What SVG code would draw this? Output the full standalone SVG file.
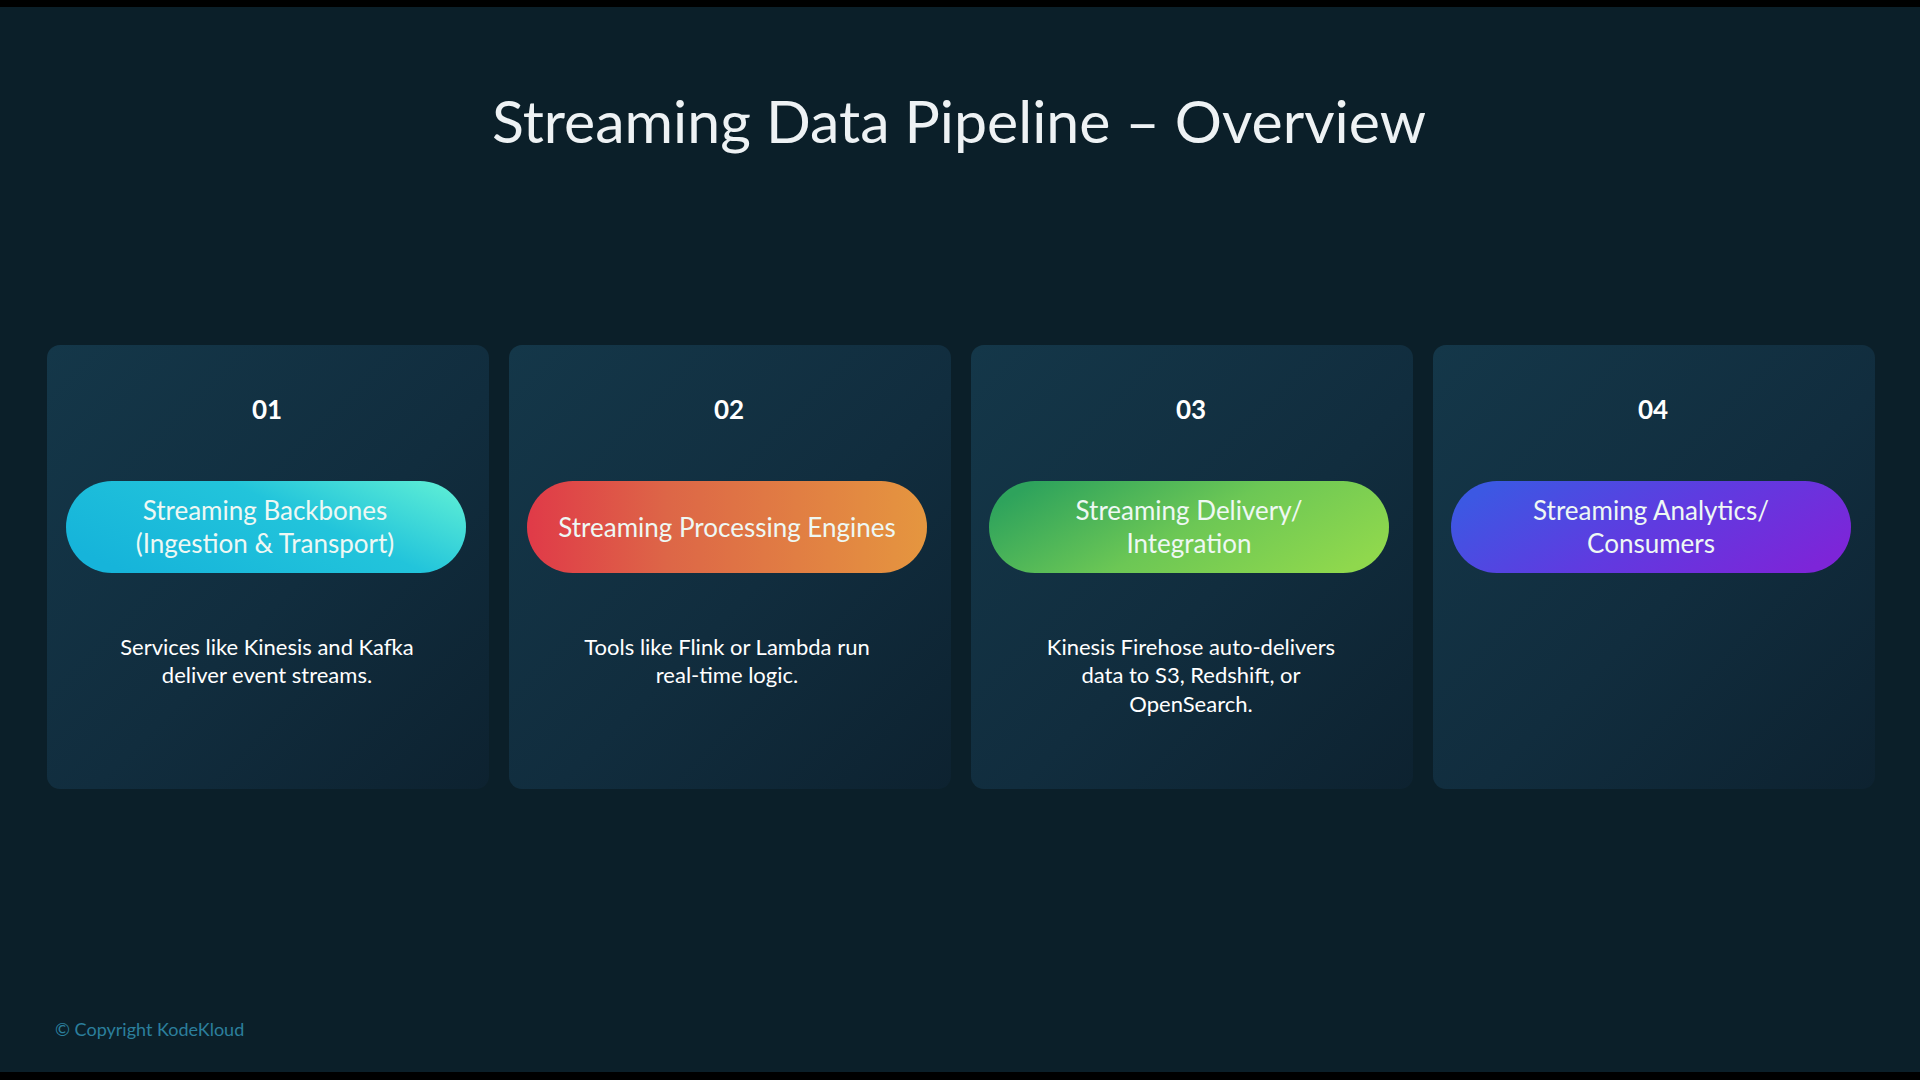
<svg xmlns="http://www.w3.org/2000/svg" width="1920" height="1080" viewBox="0 0 1920 1080">
<defs>
<linearGradient id="cardGrad" x1="0" y1="0" x2="1" y2="1">
<stop offset="0" stop-color="#143749"/>
<stop offset="0.55" stop-color="#112d3e"/>
<stop offset="1" stop-color="#0d2230"/>
</linearGradient>
<linearGradient id="g1" x1="0" y1="0.7" x2="1" y2="0.2">
<stop offset="0" stop-color="#16b4da"/>
<stop offset="0.6" stop-color="#22c4db"/>
<stop offset="1" stop-color="#58ead6"/>
</linearGradient>
<linearGradient id="g2" x1="0" y1="0.5" x2="1" y2="0.5">
<stop offset="0" stop-color="#e03a48"/>
<stop offset="0.35" stop-color="#dd6647"/>
<stop offset="1" stop-color="#e5963f"/>
</linearGradient>
<linearGradient id="g3" x1="0" y1="0.3" x2="1" y2="0.7">
<stop offset="0" stop-color="#2ea35c"/>
<stop offset="0.5" stop-color="#6cc755"/>
<stop offset="1" stop-color="#8fd84d"/>
</linearGradient>
<linearGradient id="g4" x1="0" y1="0.3" x2="1" y2="0.7">
<stop offset="0" stop-color="#3c58e3"/>
<stop offset="0.5" stop-color="#5f3be0"/>
<stop offset="1" stop-color="#7d25d8"/>
</linearGradient>
<style>
.card{fill:url(#cardGrad);}
.num{font-family:Lato,"Liberation Sans",sans-serif;font-weight:bold;font-size:26px;fill:#ffffff;text-anchor:middle;}
.pill-t{font-family:Lato,"Liberation Sans",sans-serif;font-size:26px;fill:#eef8f4;text-anchor:middle;}
.desc{font-family:Lato,"Liberation Sans",sans-serif;font-size:22px;fill:#ffffff;text-anchor:middle;}
.title{font-family:Lato,"Liberation Sans",sans-serif;font-size:59px;fill:#eef2f4;text-anchor:middle;}
.copy{font-family:Lato,"Liberation Sans",sans-serif;font-size:18px;fill:#2b7f9d;}
</style>
</defs>
<rect x="0" y="0" width="1920" height="1080" fill="#0b1f29"/>
<rect x="0" y="0" width="1920" height="7" fill="#000000"/>
<rect x="0" y="1072" width="1920" height="8" fill="#000000"/>
<text class="title" x="959" y="143">Streaming Data Pipeline – Overview</text>

<g id="node-01">
<rect class="card" x="47" y="345" width="442" height="444" rx="13"/>
<text class="num" x="267" y="419">01</text>
<rect x="66" y="481" width="400" height="92" rx="46" fill="url(#g1)"/>
<text class="pill-t" x="265" y="520">Streaming Backbones</text>
<text class="pill-t" x="265" y="553">(Ingestion &amp; Transport)</text>
<text class="desc" x="267" y="655">Services like Kinesis and Kafka</text>
<text class="desc" x="267" y="683">deliver event streams.</text>
</g>

<g id="node-02">
<rect class="card" x="509" y="345" width="442" height="444" rx="13"/>
<text class="num" x="729" y="419">02</text>
<rect x="527" y="481" width="400" height="92" rx="46" fill="url(#g2)"/>
<text class="pill-t" x="727" y="537">Streaming Processing Engines</text>
<text class="desc" x="727" y="655">Tools like Flink or Lambda run</text>
<text class="desc" x="727" y="683">real-time logic.</text>
</g>

<g id="node-03">
<rect class="card" x="971" y="345" width="442" height="444" rx="13"/>
<text class="num" x="1191" y="419">03</text>
<rect x="989" y="481" width="400" height="92" rx="46" fill="url(#g3)"/>
<text class="pill-t" x="1189" y="520">Streaming Delivery/</text>
<text class="pill-t" x="1189" y="553">Integration</text>
<text class="desc" x="1191" y="655">Kinesis Firehose auto-delivers</text>
<text class="desc" x="1191" y="683">data to S3, Redshift, or</text>
<text class="desc" x="1191" y="712">OpenSearch.</text>
</g>

<g id="node-04">
<rect class="card" x="1433" y="345" width="442" height="444" rx="13"/>
<text class="num" x="1653" y="419">04</text>
<rect x="1451" y="481" width="400" height="92" rx="46" fill="url(#g4)"/>
<text class="pill-t" x="1651" y="520">Streaming Analytics/</text>
<text class="pill-t" x="1651" y="553">Consumers</text>
</g>

<g id="connectors"></g>

<text class="copy" x="55" y="1036">© Copyright KodeKloud</text>
</svg>
